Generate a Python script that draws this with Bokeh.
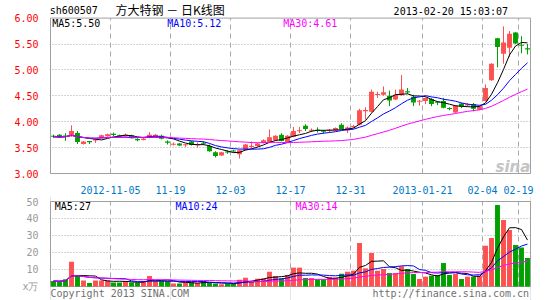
import pandas as pd
from bokeh.plotting import figure
from bokeh.models import Range1d, FixedTicker, Label, ColumnDataSource, NumeralTickFormatter
from bokeh.core.properties import value
from bokeh.layouts import column
from bokeh.embed import file_html
from bokeh.resources import INLINE

# ---------------- data ----------------
holidays = ["2013-01-01", "2013-01-02", "2013-01-03",
            "2013-02-11", "2013-02-12", "2013-02-13", "2013-02-14", "2013-02-15"]
dates = [d.strftime("%Y-%m-%d") for d in pd.bdate_range("2012-10-22", "2013-02-20")
         if d.strftime("%Y-%m-%d") not in holidays]

opens = [3.73, 3.75, 3.73, 3.72, 3.78, 3.57, 3.62, 3.64, 3.69, 3.72,
         3.76, 3.74, 3.73, 3.74, 3.66, 3.65, 3.69, 3.71, 3.73, 3.61,
         3.56, 3.58, 3.55, 3.62, 3.55, 3.59, 3.53, 3.41, 3.35, 3.42,
         3.44, 3.37, 3.46, 3.52, 3.53, 3.59, 3.61, 3.64, 3.75, 3.61,
         3.71, 3.82, 3.92, 3.83, 3.84, 3.82, 3.83, 3.83, 3.94, 3.83,
         3.90, 3.94, 4.21, 4.19, 4.52, 4.52, 4.50, 4.43, 4.51, 4.58,
         4.48, 4.39, 4.40, 4.44, 4.38, 4.40, 4.26, 4.18, 4.35, 4.32,
         4.34, 4.23, 4.40, 4.80, 5.61, 5.31, 5.43, 5.72, 5.48, 5.41]
highs = [3.75, 3.76, 3.78, 3.93, 3.82, 3.63, 3.63, 3.67, 3.75, 3.77,
         3.79, 3.75, 3.77, 3.75, 3.68, 3.68, 3.80, 3.76, 3.75, 3.64,
         3.60, 3.59, 3.57, 3.63, 3.60, 3.62, 3.56, 3.43, 3.42, 3.45,
         3.46, 3.46, 3.57, 3.62, 3.59, 3.66, 3.85, 3.74, 3.78, 3.74,
         3.90, 3.90, 3.95, 3.87, 3.89, 3.84, 3.86, 3.89, 3.97, 3.91,
         3.94, 4.25, 4.28, 4.62, 4.58, 4.68, 4.60, 4.62, 4.90, 4.65,
         4.52, 4.42, 4.47, 4.46, 4.40, 4.46, 4.28, 4.32, 4.36, 4.36,
         4.36, 4.31, 4.72, 5.13, 5.62, 5.84, 5.75, 5.73, 5.65, 5.50]
lows = [3.69, 3.69, 3.63, 3.71, 3.57, 3.56, 3.57, 3.59, 3.68, 3.71,
        3.72, 3.70, 3.71, 3.68, 3.62, 3.64, 3.68, 3.70, 3.66, 3.56,
        3.54, 3.53, 3.51, 3.54, 3.50, 3.55, 3.42, 3.31, 3.34, 3.38,
        3.41, 3.29, 3.45, 3.48, 3.52, 3.58, 3.60, 3.63, 3.62, 3.60,
        3.70, 3.78, 3.82, 3.80, 3.79, 3.77, 3.79, 3.82, 3.85, 3.78,
        3.88, 3.93, 4.04, 4.18, 4.46, 4.50, 4.30, 4.42, 4.50, 4.54,
        4.30, 4.31, 4.34, 4.30, 4.32, 4.26, 4.22, 4.17, 4.26, 4.29,
        4.20, 4.22, 4.39, 4.79, 5.05, 5.12, 5.25, 5.50, 5.32, 5.30]
closes = [3.71, 3.70, 3.72, 3.82, 3.61, 3.62, 3.61, 3.66, 3.74, 3.76,
          3.75, 3.71, 3.74, 3.69, 3.65, 3.67, 3.75, 3.75, 3.67, 3.60,
          3.57, 3.54, 3.56, 3.55, 3.56, 3.58, 3.43, 3.34, 3.41, 3.41,
          3.43, 3.45, 3.56, 3.53, 3.58, 3.64, 3.70, 3.73, 3.63, 3.73,
          3.82, 3.83, 3.86, 3.84, 3.83, 3.81, 3.84, 3.88, 3.86, 3.89,
          3.91, 4.22, 4.22, 4.58, 4.53, 4.57, 4.41, 4.52, 4.62, 4.57,
          4.37, 4.40, 4.46, 4.34, 4.37, 4.27, 4.25, 4.31, 4.29, 4.33,
          4.25, 4.30, 4.65, 5.12, 5.44, 5.53, 5.70, 5.51, 5.47, 5.40]
volumes = [3.2, 3.0, 4.2, 14.6, 6.8, 3.6, 2.1, 3.6, 3.6, 3.6,
           2.3, 2.3, 3.2, 2.3, 2.1, 3.2, 6.2, 3.2, 3.2, 3.2,
           1.7, 1.7, 2.3, 2.3, 2.0, 3.2, 2.2, 1.7, 1.3, 1.7,
           1.7, 4.0, 5.2, 3.2, 4.6, 4.8, 8.7, 6.2, 4.8, 6.8,
           11.1, 11.1, 5.0, 5.0, 4.2, 4.2, 5.6, 5.2, 7.5, 8.7,
           9.3, 25.6, 10.7, 19.7, 9.3, 10.3, 7.9, 7.9, 11.9, 10.3,
           7.4, 4.4, 5.8, 6.4, 6.8, 13.8, 6.8, 7.4, 4.4, 5.8,
           5.8, 6.4, 24.0, 28.5, 47.9, 39.1, 33.2, 24.4, 23.0, 16.8]

tick_dates = ["2012-11-05", "2012-11-19", "2012-12-03", "2012-12-17",
              "2012-12-31", "2013-01-21", "2013-02-04", "2013-02-19"]
tick_labels = ["2012-11-05", "11-19", "12-03", "12-17",
               "12-31", "2013-01-21", "02-04", "02-19"]
price_ticks = [3.0, 3.5, 4.0, 4.5, 5.0, 5.5, 6.0]
vol_ticks = [0, 10, 20, 30, 40, 50]

symbol = "sh600507"
title_text = "方大特钢 － 日K线图"
timestamp = "2013-02-20 15:03:07"
price_legend = ["MA5:5.50", "MA10:5.12", "MA30:4.61"]
vol_legend = ["MA5:27", "MA10:24", "MA30:14"]
vol_unit = "x万"
footer_left = "Copyright 2013 SINA.COM"
footer_right = "http://finance.sina.com.cn"
watermark = "sina"

# ---------------- styles / geometry ----------------
RED = "#ff5050"
GREEN = "#00a000"
MA_COLORS = ["#000000", "#0000ff", "#ff00ff"]
MONO = "DejaVu Sans Mono"
GRID = "#a8a8a8"
FRAME = "#a0a0a0"
SLOT = 6.0          # px per trading day
PX_P = 53.0         # px per 1.00 of price
PX_V = 1.7          # px per 1 (x万) of volume
W = 545
LEFT, RIGHT = 49, 14
H1, B1 = 196, 18    # price figure height, bottom border
H2 = 104            # volume figure height

n = len(closes)
xs = [i + 0.5 for i in range(n)]
colors = [RED if c >= o else GREEN for o, c in zip(opens, closes)]
min_h = 0.022
tops, bots = [], []
for o, c in zip(opens, closes):
    t, b = max(o, c), min(o, c)
    if t - b < min_h:
        m = (t + b) / 2
        t, b = m + min_h / 2, m - min_h / 2
    tops.append(t)
    bots.append(b)

cs = pd.Series(closes)
vs = pd.Series(volumes)
ma_p = [cs.rolling(w, min_periods=1).mean().tolist() for w in (5, 10, 30)]
ma_v = [vs.rolling(w, min_periods=1).mean().tolist() for w in (5, 10, 30)]

src = ColumnDataSource(dict(x=xs, o=opens, h=highs, l=lows, c=closes, top=tops,
                            bottom=bots, color=colors, v=volumes,
                            mp5=ma_p[0], mp10=ma_p[1], mp30=ma_p[2],
                            mv5=ma_v[0], mv10=ma_v[1], mv30=ma_v[2]))

tick_pos = [dates.index(d) for d in tick_dates]
pad = (50 - LEFT) / SLOT
xr = Range1d(-pad, n + pad)

# screen helpers (canvas px -> data) used only for text placement
def sx2x(sx):
    return (sx - 50) / SLOT

p_top = price_ticks[-1]
p_bot = price_ticks[0]
frame1_h = H1 - B1
yr1 = Range1d(p_top - (frame1_h - 18) / PX_P, p_top + 18 / PX_P)

def sy2p(sy):
    return p_top - (sy - 18) / PX_P

# ---------------- price panel ----------------
p1 = figure(width=W, height=H1, x_range=xr, y_range=yr1,
            output_backend="svg", toolbar_location=None,
            min_border_left=LEFT, min_border_right=RIGHT, min_border_top=0, min_border_bottom=B1,
            background_fill_color="white", border_fill_color="white",
            outline_line_color=None)

p1.yaxis.ticker = FixedTicker(ticks=price_ticks)
p1.yaxis.formatter = NumeralTickFormatter(format="0.00")
p1.yaxis.major_label_text_color = "#ff0000"
p1.yaxis.major_label_text_font = MONO
p1.yaxis.major_label_text_font_size = "10px"
p1.yaxis.major_label_standoff = 5
p1.xaxis.ticker = FixedTicker(ticks=tick_pos)
p1.xaxis.major_label_overrides = {p: l for p, l in zip(tick_pos, tick_labels)}
p1.xaxis.major_label_text_color = "#0078c8"
p1.xaxis.major_label_text_font = MONO
p1.xaxis.major_label_text_font_size = "10px"
p1.xaxis.major_label_standoff = 5
for ax in (p1.xaxis, p1.yaxis):
    ax.axis_line_color = None
    ax.major_tick_line_color = None
    ax.minor_tick_line_color = None

p1.xgrid.visible = False
p1.ygrid.ticker = FixedTicker(ticks=price_ticks[1:-1])
p1.ygrid.grid_line_color = GRID
p1.ygrid.grid_line_dash = "1 2"

p1.segment(x0=tick_pos, y0=p_bot, x1=tick_pos, y1=p_top,
           line_color=GRID, line_dash="5 4", line_width=1)
p1.quad(left=0, right=n, bottom=p_bot, top=p_top, fill_color=None,
        line_color=FRAME, line_width=1)

p1.text(x=[sx2x(495)], y=[sy2p(170)], text=[watermark], text_color="#c4c4c4",
        text_font=value("DejaVu Sans"), text_font_size="15px",
        text_font_style="bold italic", text_baseline="alphabetic", text_align="left")

p1.segment(x0="x", y0="l", x1="x", y1="h", line_color="color", line_width=1, source=src)
p1.vbar(x="x", width=0.82, top="top", bottom="bottom", fill_color="color",
        line_color=None, source=src)
for key, col in zip(("mp5", "mp10", "mp30"), MA_COLORS):
    p1.line("x", key, line_color=col, line_width=1.0, source=src)

for txt, sx, col in zip(price_legend, (51.7, 166.7, 282.7), MA_COLORS):
    p1.add_layout(Label(x=sx2x(sx), y=sy2p(23.7), text=txt,
                        text_color=col, text_font=MONO, text_font_size="10px",
                        text_baseline="middle", text_align="left"))

p1.text(x=[sx2x(49.2)], y=[sy2p(10.3)], text=[symbol], text_color="#000000",
        text_font=value(MONO), text_font_size="10px",
        text_baseline="middle", text_align="left")
p1.text(x=[sx2x(115)], y=[sy2p(9.7)], text=[title_text], text_color="#000000",
        text_font=value("Noto Sans CJK SC"), text_font_size="12px",
        text_baseline="middle", text_align="left")
p1.text(x=[sx2x(507.5)], y=[sy2p(11)], text=[timestamp], text_color="#000000",
        text_font=value(MONO), text_font_size="10px",
        text_baseline="middle", text_align="right")

# ---------------- volume panel ----------------
v_zero_sy = 286 - H1          # volume 0 within the volume canvas
yr2 = Range1d(-(H2 - v_zero_sy) / PX_V, v_zero_sy / PX_V)

def sy2v(sy):
    return (286 - sy) / PX_V

p2 = figure(width=W, height=H2, x_range=xr, y_range=yr2,
            output_backend="svg", toolbar_location=None, x_axis_location=None,
            min_border_left=LEFT, min_border_right=RIGHT, min_border_top=0, min_border_bottom=0,
            background_fill_color="white", border_fill_color="white",
            outline_line_color=None)
p2.yaxis.ticker = FixedTicker(ticks=vol_ticks)
p2.yaxis.major_label_overrides = {vol_ticks[0]: vol_unit}
p2.yaxis.major_label_text_color = "#999999"
p2.yaxis.major_label_text_font = MONO
p2.yaxis.major_label_text_font_size = "10px"
p2.yaxis.major_label_standoff = 5
p2.yaxis.axis_line_color = None
p2.yaxis.major_tick_line_color = None
p2.yaxis.minor_tick_line_color = None
p2.ygrid.ticker = FixedTicker(ticks=vol_ticks[1:-1])
p2.ygrid.grid_line_color = GRID
p2.ygrid.grid_line_dash = "1 2"

p2.segment(x0=tick_pos, y0=vol_ticks[0], x1=tick_pos, y1=vol_ticks[-1],
           line_color=GRID, line_dash="5 4", line_width=1)
p2.quad(left=0, right=n, bottom=vol_ticks[0], top=vol_ticks[-1], fill_color=None,
        line_color=FRAME, line_width=1)

p2.vbar(x="x", width=0.82, top="v", bottom=0, fill_color="color", line_color=None, source=src)
for key, col in zip(("mv5", "mv10", "mv30"), MA_COLORS):
    p2.line("x", key, line_color=col, line_width=1.0, source=src)

for txt, sx, col in zip(vol_legend, (54.3, 175, 295), MA_COLORS):
    p2.add_layout(Label(x=sx2x(sx), y=sy2v(206), text=txt,
                        text_color=col, text_font=MONO, text_font_size="10px",
                        text_baseline="middle", text_align="left"))

p2.text(x=[sx2x(50)], y=[sy2v(292.5)], text=[footer_left], text_color="#707070",
        text_font=value(MONO), text_font_size="10px",
        text_baseline="middle", text_align="left")
p2.text(x=[sx2x(528.5)], y=[sy2v(292.5)], text=[footer_right], text_color="#707070",
        text_font=value(MONO), text_font_size="10px",
        text_baseline="middle", text_align="right")

layout = column(p1, p2, spacing=0)
open("out.html", "w").write(file_html(layout, INLINE))
